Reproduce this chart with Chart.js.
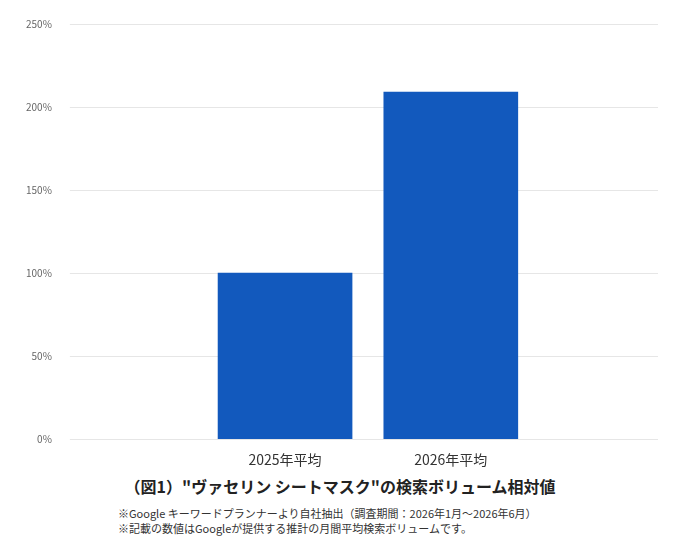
<!DOCTYPE html>
<html>
<head>
<meta charset="utf-8">
<script src="https://cdn.jsdelivr.net/npm/chart.js@4"></script>
<style>
  body { margin: 0; background: #fff; font-family: "Noto Sans CJK JP", sans-serif; }
  #wrap { position: relative; width: 680px; height: 472px; }
  .title { text-align: center; font-weight: bold; font-size: 16px; color: #222; margin-top: 2px; }
  .notes { margin: 8px 0 0 118px; font-size: 11px; color: #333; line-height: 15px; }
</style>
</head>
<body>
<div id="wrap"><canvas id="chart"></canvas></div>
<div class="title">（図1）"ヴァセリン シートマスク"の検索ボリューム相対値</div>
<div class="notes">※Google キーワードプランナーより自社抽出（調査期間：2026年1月～2026年6月）<br>※記載の数値はGoogleが提供する推計の月間平均検索ボリュームです。</div>
<script>
// categories and values (relative search volume, %)
const labels = ['2025年平均', '2026年平均'];
const values = [100, 209];
const yTicks = [0, 50, 100, 150, 200, 250];

// the bars sit in slots 2 and 4 of a 7-slot category axis
const slots = ['', '', labels[0], '', labels[1], '', ''];
const slotValues = slots.map(s => labels.includes(s) ? values[labels.indexOf(s)] : null);

const ctx = document.getElementById('chart').getContext('2d');
new Chart(ctx, {
    type: 'bar',
    data: {
        labels: slots,
        datasets: [{
            data: slotValues,
            backgroundColor: '#1259bd',
            barThickness: 134
        }]
    },
    options: {
        responsive: true,
        maintainAspectRatio: false,
        animation: false,
        layout: { padding: { top: 20, right: 22, left: 8, bottom: 0 } },
        plugins: { legend: { display: false }, tooltip: { enabled: false } },
        scales: {
            x: {
                grid: { display: false },
                border: { display: false },
                ticks: {
                    autoSkip: false,
                    maxRotation: 0,
                    color: '#333',
                    font: { size: 14, family: 'Noto Sans CJK JP' },
                    padding: 4
                }
            },
            y: {
                min: 0,
                max: 250,
                afterBuildTicks: s => { s.ticks = yTicks.map(v => ({ value: v })); },
                grid: { color: '#e6e6e6' },
                border: { display: false },
                ticks: {
                    callback: v => v + '%',
                    color: '#666',
                    font: { size: 10, family: 'Noto Sans CJK JP' },
                    padding: 18
                }
            }
        }
    }
});
</script>
</body>
</html>
